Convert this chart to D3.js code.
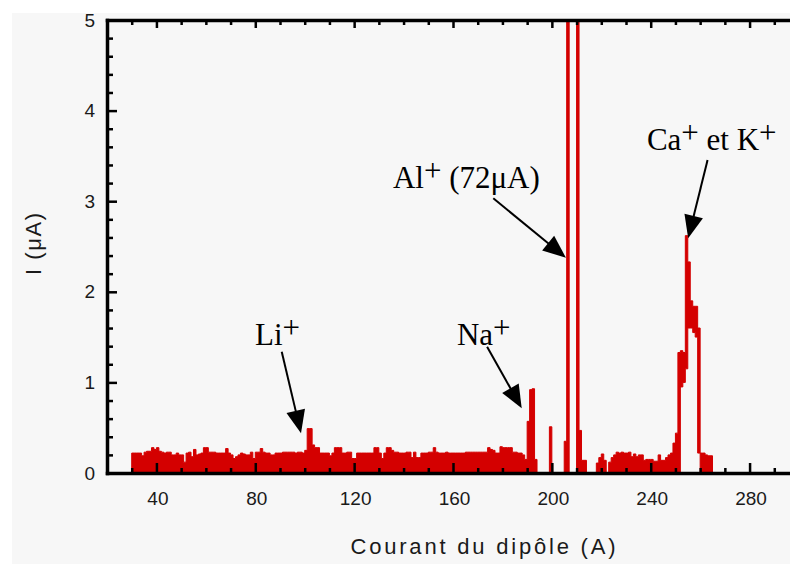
<!DOCTYPE html>
<html><head><meta charset="utf-8">
<script src="https://cdn.jsdelivr.net/npm/d3@7"></script>
<style>html,body{margin:0;padding:0;background:#fff;} svg{display:block;} text{white-space:pre;}</style>
</head><body>
<svg id="chart" width="790" height="564"></svg>
<script>
// ---------------- data ----------------
const firstBin = 30;            // dipole current (A) of first 1-A bin
// upper value of the ion current (µA) in each 1-A bin, from 30 A to 264 A
const currentUpper = [
  .22,.22,.22,.22,.19,.23,.24,.24,.28,.26,            // 30-39
  .28,.24,.23,.22,.23,.23,.20,.20,.22,.20,            // 40-49
  .20,.12,.22,.23,.18,.26,.20,.21,.22,.28,            // 50-59
  .28,.23,.23,.23,.22,.22,.22,.22,.27,.22,            // 60-69
  .20,.16,.18,.20,.22,.21,.20,.20,.23,.16,            // 70-79
  .23,.23,.27,.23,.22,.22,.20,.20,.22,.22,            // 80-89
  .22,.23,.23,.23,.23,.23,.22,.23,.23,.22,            // 90-99
  .25,.49,.49,.31,.28,.28,.22,.22,.22,.22,            // 100-109
  .19,.22,.28,.28,.28,.22,.22,.23,.23,.16,            // 110-119
  .16,.22,.22,.22,.22,.22,.22,.22,.28,.28,            // 120-129
  .22,.16,.22,.28,.28,.25,.23,.23,.22,.22,            // 130-139
  .22,.23,.23,.17,.23,.17,.17,.22,.22,.22,            // 140-149
  .23,.23,.28,.23,.22,.22,.22,.23,.22,.22,            // 150-159
  .22,.22,.22,.22,.22,.23,.23,.23,.23,.23,            // 160-169
  .23,.23,.23,.23,.28,.26,.25,.22,.22,.29,            // 170-179
  .28,.28,.28,.28,.23,.23,.22,.22,.20,.15,            // 180-189
  .57,.92,.93,.15,0,0,0,0,0,.51,                      // 190-199
  0,0,0,0,0,.35,72,0,0,0,                             // 200-209
  72,.47,.14,.14,0,0,0,0,.11,.17,                     // 210-219
  .21,.14,0,.12,.17,.20,.23,.22,.23,.22,              // 220-229
  .22,.23,.18,.21,.18,.20,.20,.14,.15,.15,            // 230-239
  .15,.13,.13,.20,.14,.14,.17,.20,.22,.33,            // 240-249
  .44,1.33,1.35,1.33,2.62,2.33,1.90,1.84,1.84,1.60,   // 250-259
  .22,.22,.20,.19,.19                                 // 260-264
];
// bins of the Ca+/K+ peak whose lower envelope is above zero
const caPeakBins  = [252, 253, 254, 255, 256, 257, 258, 259];
const caPeakLower = [0.95, 1.00, 1.15, 1.60, 1.60, 1.55, 1.50, 0.22];

const xMajorTicks = [40, 80, 120, 160, 200, 240, 280];
const yMajorTicks = [0, 1, 2, 3, 4, 5];

const annotationLabels = [
  [['Li', false], ['+', true]],
  [['Na', false], ['+', true]],
  [['Al', false], ['+', true], [' (72μA)', false]],
  [['Ca', false], ['+', true], [' et K', false], ['+', true]]
];
const annotationTextPos = [[79.9, 1.413], [161.6, 1.413], [135.7, 3.146], [238.45, 3.565]];
const arrowTails = [[90.7, 1.339], [173.8, 1.394], [176.3, 3.032], [263.0, 3.455]];
const arrowTips  = [[98.5, 0.438], [187.8, 0.714], [205.7, 2.376], [255.15, 2.59]];

// ---------------- drawing ----------------
const svg = d3.select('#chart');
const x = d3.scaleLinear().domain([20, 300]).range([107, 799]);
const y = d3.scaleLinear().domain([0, 5]).range([473, 20]);
const RED = '#d40000';

svg.append('rect').attr('x', 12).attr('y', 13).attr('width', 778).attr('height', 551).attr('fill', '#f7f7f7');

svg.append('clipPath').attr('id', 'plotclip').append('rect')
  .attr('x', x(20)).attr('y', y(5)).attr('width', x(300) - x(20)).attr('height', y(0) - y(5));

const lowerMap = new Map(caPeakBins.map((b, i) => [b, caPeakLower[i]]));
const bins = currentUpper.map((v, i) => ({x: firstBin + i, hi: v, lo: lowerMap.get(firstBin + i) || 0}));
const last = bins[bins.length - 1];
bins.push({x: last.x + 1, hi: last.hi, lo: last.lo});

const area = d3.area()
  .x(d => x(d.x)).y0(d => y(d.lo)).y1(d => y(d.hi))
  .curve(d3.curveStepAfter);

svg.append('path').datum(bins)
  .attr('clip-path', 'url(#plotclip)')
  .attr('d', area)
  .attr('fill', RED).attr('stroke', RED).attr('stroke-width', 1);

// axes
const xMinor = d3.range(30, 300, 10).filter(v => v % 40 !== 0);
const yMinor = d3.range(0, 5.001, 0.2).map(v => +v.toFixed(1)).filter(v => Math.abs(v - Math.round(v)) > 1e-6);

function styleAxis(g, showDomain) {
  g.attr('font-family', 'Liberation Sans, Arial, sans-serif').attr('font-size', 19);
  g.selectAll('.tick line').attr('stroke', '#000').attr('stroke-width', 2.5);
  g.selectAll('.tick text').attr('fill', '#1a1a1a');
  if (showDomain) g.select('.domain').attr('stroke', '#000').attr('stroke-width', 3.5).attr('stroke-linecap', 'square');
  else g.select('.domain').remove();
}

// bottom
svg.append('g').attr('transform', `translate(0,${y(0)})`)
  .call(d3.axisBottom(x).tickValues(xMinor).tickSize(-5).tickFormat(''))
  .call(g => styleAxis(g, false));
svg.append('g').attr('transform', `translate(0,${y(0)})`)
  .call(d3.axisBottom(x).tickValues(xMajorTicks).tickSize(-10).tickSizeOuter(0).tickPadding(18.5).tickFormat(d3.format('d')))
  .call(g => styleAxis(g, true))
  .call(g => g.selectAll('.tick text').attr('dx', 1));

// top
svg.append('g').attr('transform', `translate(0,${y(5)})`)
  .call(d3.axisTop(x).tickValues(xMinor).tickSize(-5).tickFormat(''))
  .call(g => styleAxis(g, false));
svg.append('g').attr('transform', `translate(0,${y(5)})`)
  .call(d3.axisTop(x).tickValues(xMajorTicks).tickSize(-8).tickSizeOuter(0).tickFormat(''))
  .call(g => styleAxis(g, true));

// left
svg.append('g').attr('transform', `translate(${x(20)},0)`)
  .call(d3.axisLeft(y).tickValues(yMinor).tickSize(-6).tickFormat(''))
  .call(g => styleAxis(g, false));
svg.append('g').attr('transform', `translate(${x(20)},0)`)
  .call(d3.axisLeft(y).tickValues(yMajorTicks).tickSize(-10).tickSizeOuter(0).tickPadding(12).tickFormat(d3.format('d')))
  .call(g => styleAxis(g, true));

// axis titles
svg.append('text').attr('x', 483).attr('y', 554).attr('text-anchor', 'middle')
  .attr('font-family', 'Liberation Sans, Arial, sans-serif').attr('font-size', 22)
  .attr('textLength', 265).attr('lengthAdjust', 'spacing').attr('fill', '#1a1a1a')
  .text('Courant du dipôle (A)');
svg.append('text').attr('transform', 'translate(41,244) rotate(-90)').attr('text-anchor', 'middle')
  .attr('font-family', 'Liberation Sans, Arial, sans-serif').attr('font-size', 22)
  .attr('textLength', 62).attr('lengthAdjust', 'spacing').attr('fill', '#1a1a1a')
  .text('I (μA)');

// annotations
annotationLabels.forEach((parts, i) => {
  const t = svg.append('text')
    .attr('x', x(annotationTextPos[i][0])).attr('y', y(annotationTextPos[i][1]))
    .attr('font-family', 'Liberation Serif, Times New Roman, serif').attr('font-size', 31).attr('fill', '#000');
  let raised = false;
  parts.forEach(([txt, sup]) => {
    let dy = 0;
    if (sup && !raised) { dy = -7; raised = true; }
    else if (!sup && raised) { dy = 7; raised = false; }
    t.append('tspan').attr('dy', dy).text(txt);
  });

  const tx = x(arrowTails[i][0]), ty = y(arrowTails[i][1]);
  const hx = x(arrowTips[i][0]), hy = y(arrowTips[i][1]);
  const len = Math.hypot(hx - tx, hy - ty);
  const ux = (hx - tx) / len, uy = (hy - ty) / len;
  const L = 23, Wd = 9.5;
  const bx = hx - ux * L, by = hy - uy * L;
  svg.append('line').attr('x1', tx).attr('y1', ty).attr('x2', bx + ux * 2).attr('y2', by + uy * 2)
    .attr('stroke', '#000').attr('stroke-width', 2);
  svg.append('path')
    .attr('d', `M${hx},${hy}L${bx - uy * Wd},${by + ux * Wd}L${bx + uy * Wd},${by - ux * Wd}Z`)
    .attr('fill', '#000');
});
</script>
</body></html>
